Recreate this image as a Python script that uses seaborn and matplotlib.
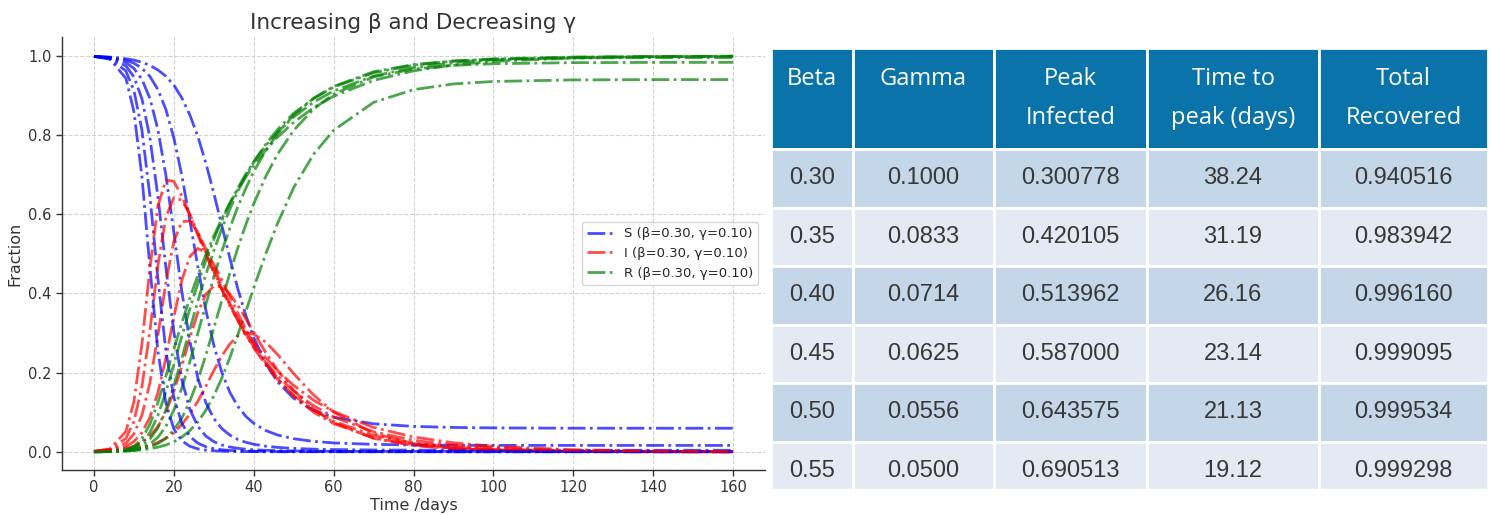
import numpy as np
import pandas as pd
import seaborn as sns
import matplotlib.pyplot as plt
from matplotlib.patches import Rectangle

# time grid (days) and fractions, one run per (beta, gamma) pair
t_days = [0, 4, 8, 10, 12, 14, 16, 18, 20, 22, 24, 26, 28, 30, 32, 34, 36, 38, 40,
          43, 46, 50, 55, 60, 70, 80, 90, 100, 120, 140, 160]

beta = [0.30, 0.35, 0.40, 0.45, 0.50, 0.55]
gamma = [0.1000, 0.0833, 0.0714, 0.0625, 0.0556, 0.0500]
peak_infected = [0.300778, 0.420105, 0.513962, 0.587000, 0.643575, 0.690513]
time_to_peak = [38.24, 31.19, 26.16, 23.14, 21.13, 19.12]
total_recovered = [0.940516, 0.983942, 0.996160, 0.999095, 0.999534, 0.999298]

s_030 = [.999, .9972, .9931, .9896, .9843, .9763, .9648, .9490, .9265, .8940, .8513, .7971, .7300, .6536, .5722, .4904,
         .4123, .3454, .2885, .2229, .1764, .1350, .1047, .0873, .0707, .0642, .0615, .0604, .0596, .0595, .0595]
i_030 = [.001, .0022, .0049, .0072, .0108, .0160, .0236, .0339, .0484, .0690, .0954, .1276, .1654, .2050, .2420, .2724,
         .2927, .3006, .2975, .2771, .2456, .1975, .1433, .1004, .0465, .0208, .0091, .0040, .0008, .0002, .0000]
r_030 = [0, .0006, .0020, .0032, .0049, .0077, .0116, .0171, .0251, .0370, .0533, .0753, .1046, .1414, .1858, .2372,
         .2950, .3540, .4140, .5000, .5780, .6675, .7520, .8123, .8828, .9150, .9294, .9356, .9396, .9403, .9405]

s_035 = [.999, .9965, .9893, .9818, .9692, .9485, .9155, .8650, .7929, .6984, .5848, .4681, .3584, .2693, .2009, .1507,
         .1151, .0898, .0719, .0538, .0423, .0330, .0263, .0224, .0188, .0172, .0165, .0162, .0161, .0161, .0161]
i_035 = [.001, .0029, .0084, .0141, .0236, .0391, .0637, .1007, .1521, .2164, .2877, .3514, .3976, .4186, .4172, .3989,
         .3705, .3366, .3017, .2507, .2051, .1549, .1075, .0740, .0340, .0157, .0072, .0033, .0007, .0001, .0000]
r_035 = [0, .0006, .0023, .0041, .0072, .0124, .0208, .0343, .0550, .0852, .1275, .1805, .2440, .3121, .3819, .4504,
         .5144, .5736, .6264, .6955, .7526, .8121, .8662, .9036, .9472, .9671, .9763, .9805, .9832, .9838, .9839]

s_040 = [.999, .9957, .9835, .9686, .9412, .8931, .8146, .6991, .5549, .4049, .2792, .1869, .1244, .0842, .0587, .0423,
         .0312, .0241, .0190, .0141, .0111, .0085, .0067, .0057, .0046, .0042, .0040, .0039, .0038, .0038, .0038]
i_040 = [.001, .0037, .0137, .0259, .0482, .0869, .1490, .2371, .3401, .4338, .4931, .5138, .5036, .4742, .4350, .3929,
         .3500, .3107, .2731, .2250, .1848, .1406, .0999, .0713, .0352, .0175, .0087, .0043, .0011, .0003, .0001]
r_040 = [0, .0006, .0028, .0055, .0106, .0200, .0364, .0638, .1050, .1613, .2277, .2993, .3720, .4416, .5063, .5648,
         .6188, .6652, .7079, .7609, .8041, .8509, .8934, .9230, .9602, .9783, .9873, .9918, .9951, .9959, .9961]

s_045 = [.999, .9947, .9749, .9473, .8924, .7941, .6464, .4667, .3024, .1821, .1075, .0645, .0399, .0258, .0173, .0121,
         .0088, .0066, .0051, .0037, .0028, .0021, .0016, .0013, .0010, .0009, .0009, .0009, .0009, .0009, .0009]
i_045 = [.001, .0047, .0217, .0453, .0919, .1740, .2931, .4276, .5316, .5815, .5829, .5549, .5130, .4663, .4194, .3754,
         .3337, .2963, .2628, .2194, .1826, .1425, .1058, .0771, .0414, .0222, .0120, .0064, .0019, .0005, .0002]
r_045 = [0, .0006, .0034, .0074, .0157, .0319, .0605, .1057, .1660, .2364, .3096, .3806, .4471, .5079, .5633, .6125,
         .6575, .6971, .7321, .7769, .8146, .8554, .8926, .9216, .9576, .9769, .9871, .9927, .9972, .9986, .9989]

s_050 = [.999, .9935, .9621, .9132, .8133, .6468, .4385, .2556, .1372, .0721, .0389, .0218, .0129, .0080, .0052, .0035,
         .0025, .0018, .0014, .0009, .0007, .0005, .0004, .0003, .0002, .0002, .0001, .0001, .0001, .0001, .0001]
i_050 = [.001, .0059, .0337, .0768, .1638, .3049, .4700, .5930, .6422, .6358, .6005, .5532, .5038, .4556, .4104, .3688,
         .3314, .2965, .2657, .2255, .1915, .1536, .1162, .0880, .0505, .0290, .0167, .0096, .0032, .0010, .0003]
r_050 = [0, .0006, .0042, .0100, .0229, .0483, .0915, .1514, .2206, .2921, .3606, .4250, .4833, .5364, .5844, .6277,
         .6661, .7017, .7329, .7736, .8078, .8459, .8834, .9117, .9493, .9708, .9832, .9903, .9967, .9989, .9996]

s_055 = [.999, .9920, .9436, .8598, .6960, .4672, .2549, .1228, .0576, .0277, .0140, .0074, .0042, .0025, .0015, .0010,
         .0007, .0005, .0003, .0002, .0002, .0001, .0001, .0001, .0001, .0001, .0000, .0000, .0000, .0000, .0000]
i_055 = [.001, .0074, .0512, .1266, .2711, .4637, .6209, .6867, .6830, .6463, .5979, .5473, .4983, .4525, .4104, .3718,
         .3368, .3050, .2761, .2377, .2044, .1676, .1303, .1016, .0616, .0374, .0227, .0137, .0051, .0019, .0007]
r_055 = [0, .0006, .0052, .0136, .0329, .0691, .1242, .1905, .2594, .3260, .3881, .4453, .4975, .5450, .5881, .6272,
         .6625, .6945, .7236, .7621, .7954, .8323, .8696, .8983, .9383, .9625, .9773, .9863, .9949, .9981, .9993]

s_runs = [s_030, s_035, s_040, s_045, s_050, s_055]
i_runs = [i_030, i_035, i_040, i_045, i_050, i_055]
r_runs = [r_030, r_035, r_040, r_045, r_050, r_055]

sns.set_theme(style='whitegrid', rc={'grid.linestyle': '--', 'grid.color': '#d2d2d2', 'grid.linewidth': 0.8,
                                     'axes.edgecolor': '#333333', 'axes.linewidth': 1.0})
plt.rcParams['font.family'] = ['DejaVu Sans']

fig = plt.figure(figsize=(14.91, 5.15), dpi=100)
ax = fig.add_axes([62 / 1491, 45 / 515, 703 / 1491, 433 / 515])

first_tag = f'(β={beta[0]:.2f}, γ={gamma[0]:.2f})'
for k in range(len(beta)):
    sns.lineplot(x=t_days, y=s_runs[k], ax=ax, color='blue', linestyle='-.', linewidth=2, alpha=0.7,
                 legend=False, label='S ' + first_tag if k == 0 else None)
    sns.lineplot(x=t_days, y=i_runs[k], ax=ax, color='red', linestyle='-.', linewidth=2, alpha=0.7,
                 legend=False, label='I ' + first_tag if k == 0 else None)
    sns.lineplot(x=t_days, y=r_runs[k], ax=ax, color='green', linestyle='-.', linewidth=2, alpha=0.7,
                 legend=False, label='R ' + first_tag if k == 0 else None)

ax.set_xlim(-8, 168)
ax.set_ylim(-0.046, 1.048)
ax.set_xticks(range(0, 161, 20))
ax.set_yticks([0.0, 0.2, 0.4, 0.6, 0.8, 1.0])
ax.set_title('Increasing β and Decreasing γ', fontsize=15.5, color='#333333')
ax.set_xlabel('Time /days', fontsize=11.5, color='#333333', labelpad=2)
ax.set_ylabel('Fraction', fontsize=11.5, color='#333333')
ax.tick_params(axis='both', length=4, width=1, color='#333333', labelsize=10.5, labelcolor='#333333',
               bottom=True, left=True)
sns.despine(ax=ax)
ax.legend(loc='center right', fontsize=9.5, frameon=True, handlelength=2.0)

# table of results on the right
col_labels = ['Beta\n ', 'Gamma\n ', 'Peak\nInfected', 'Time to\npeak (days)', 'Total\nRecovered']
cell_text = [[f'{b:.2f}', f'{g:.4f}', f'{p:.6f}', f'{tp:.2f}', f'{tr:.6f}']
             for b, g, p, tp, tr in zip(beta, gamma, peak_infected, time_to_peak, total_recovered)]
col_w = [82, 141, 153, 172, 169]

tax = fig.add_axes([0, 0, 1, 1])
tax.axis('off')
tbl = tax.table(cellText=cell_text, colLabels=col_labels, colWidths=col_w, cellLoc='center',
                bbox=[771 / 1491, 1 - 500 / 515, 717 / 1491, 452 / 515])
tbl.auto_set_font_size(False)
for (row, col), cell in tbl.get_celld().items():
    cell.set_edgecolor('white')
    cell.set_linewidth(2)
    txt = cell.get_text()
    if row == 0:
        cell.set_height(101)
        cell.set_facecolor('#0a73a9')
        txt.set_color('white')
        txt.set_fontsize(17)
        txt.set_fontfamily(['Open Sans', 'DejaVu Sans'])
        txt.set_linespacing(1.85)
    else:
        cell.set_height(58.5)
        cell.set_facecolor('#c3d7e8' if row % 2 == 1 else '#e4eaf3')
        txt.set_color('#383838')
        txt.set_fontsize(17)
        txt.set_fontfamily(['Liberation Sans', 'DejaVu Sans'])

# the source screenshot cuts the last table row short
tax.add_patch(Rectangle((769 / 1491, 0), 1 - 769 / 1491, 26 / 515, transform=fig.transFigure,
                        color='white', zorder=20))

plt.savefig('out.png', dpi=100)
